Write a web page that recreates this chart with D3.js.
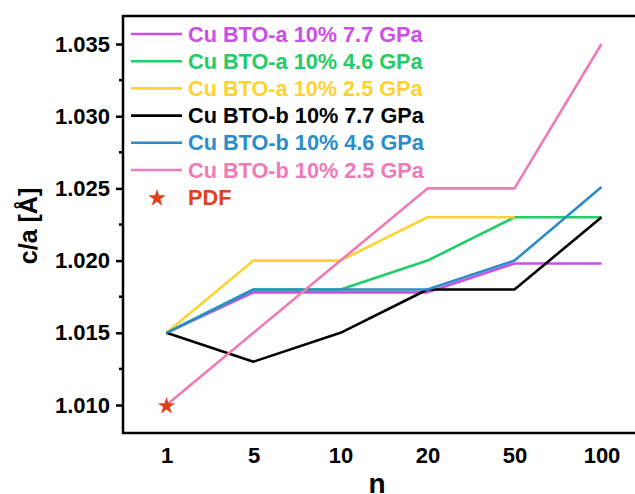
<!DOCTYPE html>
<html>
<head>
<meta charset="utf-8">
<script src="https://cdn.jsdelivr.net/npm/d3@7"></script>
<style>
  body { margin: 0; background: #fff; }
  text { font-family: 'Liberation Sans', Arial, sans-serif; font-weight: bold; }
</style>
</head>
<body>
<div id="chart"></div>
<script>
// data
var categories = ['1', '5', '10', '20', '50', '100']
var seriesNames = [
    'Cu BTO-a 10% 7.7 GPa',
    'Cu BTO-a 10% 4.6 GPa',
    'Cu BTO-a 10% 2.5 GPa',
    'Cu BTO-b 10% 7.7 GPa',
    'Cu BTO-b 10% 4.6 GPa',
    'Cu BTO-b 10% 2.5 GPa'
]
var btoA77 = [1.015, 1.0178, 1.0178, 1.0178, 1.0198, 1.0198]
var btoA46 = [1.015, 1.018, 1.018, 1.020, 1.023, 1.023]
var btoA25 = [1.015, 1.020, 1.020, 1.023, 1.023, null]
var btoB77 = [1.015, 1.013, 1.015, 1.018, 1.018, 1.023]
var btoB46 = [1.015, 1.018, 1.018, 1.018, 1.020, 1.0251]
var btoB25 = [1.010, 1.015, 1.020, 1.025, 1.025, 1.035]
var pdf = [{ n: '1', v: 1.010 }]
var yTicks = [1.010, 1.015, 1.020, 1.025, 1.030, 1.035]
var yMinorTicks = [1.0125, 1.0175, 1.0225, 1.0275, 1.0325]

var colors = ['#cc4ee8', '#22cc66', '#ffd233', '#000000', '#2b8ccb', '#f07ab8']
var starColor = '#e0401a'
var allSeries = [btoA77, btoA46, btoA25, btoB77, btoB46, btoB25]

var W = 635,
    H = 494,
    pLeft = 123,
    pTop = 16,
    pBottom = 433,
    pRight = 645

var svg = d3.select('#chart')
    .append('svg')
    .attr('width', W)
    .attr('height', H)

// scales
var xscale = d3.scalePoint()
    .domain(categories)
    .range([pLeft, pRight])
    .padding(0.5)

var yscale = d3.scaleLinear()
    .domain([1.00806, 1.03694])
    .range([pBottom, pTop])

// lines
var line = d3.line()
    .defined(d => d.v != null)
    .x(d => xscale(d.n))
    .y(d => yscale(d.v))

allSeries.forEach(function (s, i) {
    svg.append('path')
        .datum(s.map((v, j) => ({ n: categories[j], v: v })))
        .attr('d', line)
        .attr('fill', 'none')
        .attr('stroke', colors[i])
        .attr('stroke-width', 2.6)
        .attr('stroke-linejoin', 'round')
})

// PDF star
var star = d3.symbol().type(d3.symbolStar).size(95)
svg.selectAll('.pdf')
    .data(pdf)
    .enter()
    .append('path')
    .attr('class', 'pdf')
    .attr('d', star)
    .attr('transform', d => `translate(${xscale(d.n)}, ${yscale(d.v) + 1})`)
    .attr('fill', starColor)

// frame
svg.append('line')
    .attr('x1', pLeft - 1).attr('x2', W + 10)
    .attr('y1', pTop).attr('y2', pTop)
    .attr('stroke', '#000').attr('stroke-width', 2.5)

// x axis
var xaxis = d3.axisBottom(xscale).tickSize(0).tickPadding(14)
var gx = svg.append('g')
    .attr('transform', `translate(0, ${pBottom})`)
    .call(xaxis)
gx.select('.domain').attr('d', `M${pLeft - 1},0H${W + 10}`).attr('stroke-width', 2.5)
gx.selectAll('text').style('font-size', '22px').attr('fill', '#000')

// y axis
var yaxis = d3.axisLeft(yscale)
    .tickValues(yTicks)
    .tickFormat(d3.format('.3f'))
    .tickSize(7)
    .tickPadding(6)
var gy = svg.append('g')
    .attr('transform', `translate(${pLeft}, 0)`)
    .call(yaxis)
gy.select('.domain').attr('d', `M0,${pTop - 1}V${pBottom + 1}`).attr('stroke-width', 2.5)
gy.selectAll('.tick line').attr('stroke-width', 2.5)
gy.selectAll('text').style('font-size', '22px').attr('fill', '#000')

gy.selectAll('.minor')
    .data(yMinorTicks)
    .enter()
    .append('line')
    .attr('class', 'minor')
    .attr('x1', -4).attr('x2', 0)
    .attr('y1', d => yscale(d)).attr('y2', d => yscale(d))
    .attr('stroke', '#000').attr('stroke-width', 2.5)

// axis titles
svg.append('text')
    .text('n')
    .attr('text-anchor', 'middle')
    .attr('x', 377)
    .attr('y', 493)
    .style('font-size', '28px')

svg.append('text')
    .text('c/a [Å]')
    .attr('text-anchor', 'middle')
    .attr('transform', 'translate(37, 226) rotate(-90)')
    .style('font-size', '25px')

// legend
var legend = svg.selectAll('.legend')
    .data(seriesNames)
    .enter()
    .append('g')
    .attr('class', 'legend')
    .attr('transform', (d, i) => `translate(131, ${34 + i * 27.2})`)

legend.append('line')
    .attr('x1', 0).attr('x2', 51)
    .attr('stroke', (d, i) => colors[i])
    .attr('stroke-width', 2.6)

legend.append('text')
    .text(d => d)
    .attr('x', 57)
    .attr('y', 7.5)
    .attr('fill', (d, i) => colors[i])
    .style('font-size', '21.7px')

var pdfLegend = svg.append('g')
    .attr('transform', `translate(131, ${34 + 6 * 27.2})`)
pdfLegend.append('path')
    .attr('d', star)
    .attr('transform', 'translate(26, 1)')
    .attr('fill', starColor)
pdfLegend.append('text')
    .text('PDF')
    .attr('x', 57)
    .attr('y', 7.5)
    .attr('fill', starColor)
    .style('font-size', '21.7px')
</script>
</body>
</html>
